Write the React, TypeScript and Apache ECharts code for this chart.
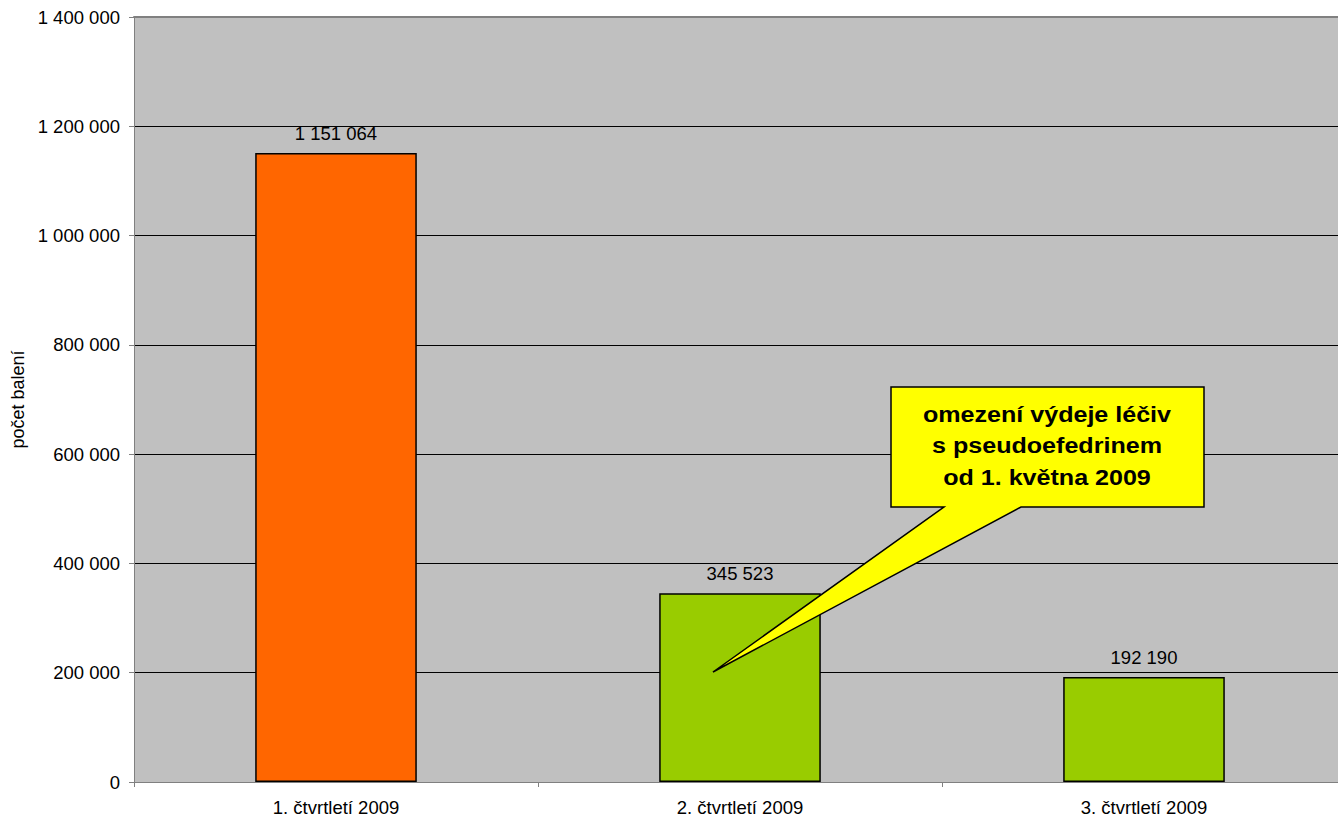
import React, { useEffect, useRef } from "react";
import * as echarts from "echarts";

const categories = ["1. čtvrtletí 2009", "2. čtvrtletí 2009", "3. čtvrtletí 2009"];
const values = [1151064, 345523, 192190];
const barColors = ["#FF6600", "#99CC00", "#99CC00"];
const yAxisName = "počet balení";
const calloutLines = ["omezení výdeje léčiv", "s pseudoefedrinem", "od 1. května 2009"];

const FONT = "'Liberation Sans', Arial, sans-serif";

const fmt = (v: number) => String(Math.round(v)).replace(/\B(?=(\d{3})+(?!\d))/g, " ");

export default function App() {
  const ref = useRef<HTMLDivElement>(null);
  useEffect(() => {
    if (!ref.current) return;
    const chart = echarts.init(ref.current, null, { renderer: "svg" });
    chart.setOption({
      animation: false,
      textStyle: { fontFamily: FONT },
      grid: {
        left: 134,
        top: 17,
        width: 1212,
        bottom: 36,
        outerBoundsMode: "none",
        containLabel: false,
        show: true,
        backgroundColor: "#C0C0C0",
        borderWidth: 0,
      },
      xAxis: [
        {
          type: "category",
          data: categories,
          boundaryGap: true,
          axisLine: { lineStyle: { color: "#808080", width: 1 } },
          axisTick: { show: true, interval: 0, length: 5, lineStyle: { color: "#808080" } },
          axisLabel: { color: "#000", fontSize: 18.5, margin: 16, fontFamily: FONT, interval: 0 },
        },
        {
          type: "category",
          data: categories,
          position: "top",
          axisLine: { show: true, lineStyle: { color: "#808080", width: 2 } },
          axisTick: { show: false },
          axisLabel: { show: false },
          splitLine: { show: false },
        },
      ],
      yAxis: {
        type: "value",
        min: 0,
        max: 1400000,
        interval: 200000,
        name: yAxisName,
        nameLocation: "middle",
        nameGap: 106,
        nameTextStyle: { color: "#000", fontSize: 18, fontFamily: FONT },
        axisLine: { show: true, lineStyle: { color: "#808080", width: 1 } },
        axisTick: { show: true, length: 5, lineStyle: { color: "#808080" } },
        axisLabel: { color: "#000", fontSize: 18.5, margin: 14, fontFamily: FONT, formatter: (v: number) => fmt(v) },
        splitLine: { show: true, lineStyle: { color: "#000", width: 1 } },
      },
      series: [
        {
          type: "bar",
          barWidth: "40%",
          data: values.map((v, i) => ({
            value: v,
            itemStyle: { color: barColors[i], borderColor: "#000", borderWidth: 1.5 },
          })),
          label: {
            show: true,
            position: "top",
            distance: 10,
            color: "#000",
            fontSize: 18.5,
            fontFamily: FONT,
            formatter: (p: any) => fmt(p.value),
          },
        },
      ],
      graphic: [
        {
          type: "polygon",
          shape: {
            points: [
              [891, 387],
              [1204, 387],
              [1204, 507],
              [1021, 507],
              [713, 672],
              [944, 507],
              [891, 507],
            ],
          },
          style: { fill: "#FFFF00", stroke: "#000", lineWidth: 1.5 },
          z: 100,
        },
        {
          type: "text",
          x: 1047,
          y: 446,
          scaleX: 1.14,
          style: {
            text: calloutLines.join("\n"),
            fill: "#000",
            font: `bold 22px ${FONT}`,
            align: "center",
            verticalAlign: "middle",
            lineHeight: 31.5,
          },
          z: 101,
        },
      ],
    });
    return () => chart.dispose();
  }, []);
  return (
    <div
      ref={ref}
      style={{ position: "absolute", left: 0, top: 0, width: 1338, height: 818, overflow: "hidden" }}
    />
  );
}
